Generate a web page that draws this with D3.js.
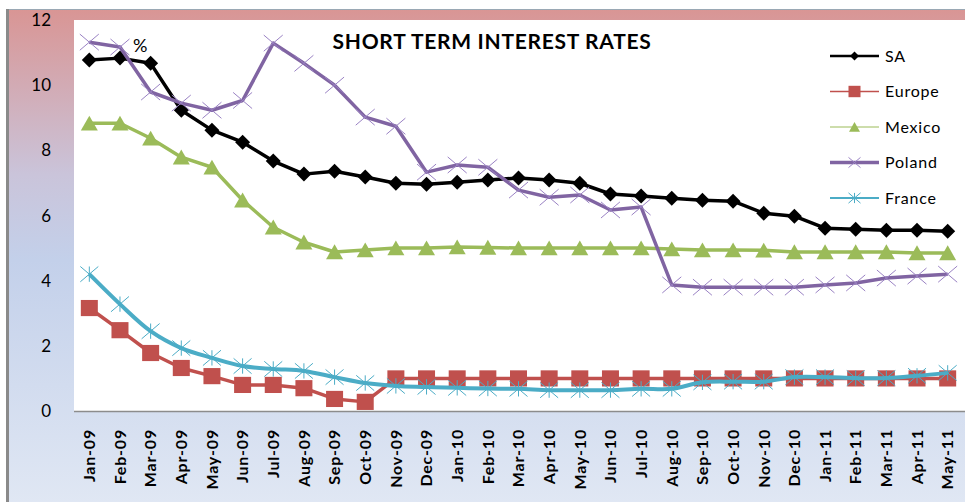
<!DOCTYPE html>
<html>
<head>
<meta charset="utf-8">
<script src="https://cdn.jsdelivr.net/npm/d3@7"></script>
<style>
  body { margin: 0; background: #fff; }
  text { font-family: Lato, "Open Sans", sans-serif; }
</style>
</head>
<body>
<div id="chart"></div>
<script>
// data
const months = ["Jan-09","Feb-09","Mar-09","Apr-09","May-09","Jun-09","Jul-09","Aug-09","Sep-09","Oct-09",
  "Nov-09","Dec-09","Jan-10","Feb-10","Mar-10","Apr-10","May-10","Jun-10","Jul-10","Aug-10",
  "Sep-10","Oct-10","Nov-10","Dec-10","Jan-11","Feb-11","Mar-11","Apr-11","May-11"];
const sa = [10.77,10.83,10.67,9.23,8.62,8.25,7.67,7.27,7.36,7.18,6.99,6.96,7.02,7.09,7.15,7.09,6.99,6.66,6.6,6.53,6.47,6.44,6.07,5.98,5.61,5.58,5.55,5.55,5.52];
const europe = [3.16,2.48,1.78,1.32,1.07,0.8,0.8,0.7,0.37,0.28,1,1,1,1,1,1,1,1,1,1,1,1,1,1,1,1,1,1,1];
const mexico = [8.83,8.83,8.37,7.79,7.48,6.47,5.64,5.18,4.88,4.94,5,5,5.03,5.02,5,5,5,5,5,4.97,4.94,4.94,4.93,4.88,4.88,4.88,4.88,4.85,4.85];
const poland = [11.32,11.17,9.79,9.45,9.23,9.53,11.29,10.67,10,9.02,8.74,7.33,7.55,7.48,6.78,6.56,6.63,6.17,6.26,3.87,3.8,3.8,3.8,3.8,3.87,3.93,4.08,4.14,4.2];
const france = [4.2,3.28,2.45,1.93,1.63,1.38,1.29,1.23,1.04,0.86,0.77,0.74,0.71,0.69,0.68,0.64,0.64,0.64,0.68,0.68,0.88,0.9,0.9,1.04,1.04,1.01,1.01,1.08,1.17];
const yTicks = [0,2,4,6,8,10,12];
const seriesNames = ["SA","Europe","Mexico","Poland","France"];

const width = 965, height = 502;
const svg = d3.select("#chart").append("svg")
  .attr("width", width).attr("height", height);

// background gradient
const grad = svg.append("defs").append("linearGradient")
  .attr("id", "bg").attr("x1", 0).attr("y1", 0).attr("x2", 0).attr("y2", 1);
grad.append("stop").attr("offset", "0%").attr("stop-color", "#d99594");
grad.append("stop").attr("offset", "33%").attr("stop-color", "#cac4da");
grad.append("stop").attr("offset", "50%").attr("stop-color", "#c3d0ea");
grad.append("stop").attr("offset", "100%").attr("stop-color", "#e1e8f4");

svg.append("rect").attr("x", 7).attr("y", 9).attr("width", width).attr("height", height)
  .attr("fill", "url(#bg)");
svg.append("line").attr("x1", 7).attr("x2", width).attr("y1", 9.5).attr("y2", 9.5)
  .attr("stroke", "#9aa8b4").attr("stroke-width", 1);
svg.append("line").attr("x1", 7.5).attr("x2", 7.5).attr("y1", 9).attr("y2", height)
  .attr("stroke", "#8a8a8a").attr("stroke-width", 3);

const x = d3.scaleBand().domain(months).range([74, 963]);
const y = d3.scaleLinear().domain([0, 12]).range([411, 20]);
const cx = d => x(d) + x.bandwidth() / 2;

// plot area
svg.append("rect").attr("x", 74).attr("y", 20).attr("width", width - 74).attr("height", 391)
  .attr("fill", "#fff");
svg.append("line").attr("x1", 74).attr("x2", width).attr("y1", 411.5).attr("y2", 411.5)
  .attr("stroke", "#8c8c8c").attr("stroke-width", 1.5);

// y axis labels
svg.append("g").selectAll("text").data(yTicks).join("text")
  .attr("x", 51).attr("y", d => y(d)).attr("dy", "0.36em")
  .attr("text-anchor", "end").attr("font-size", 17).text(d => d);

// x axis labels
svg.append("g").selectAll("text").data(months).join("text")
  .attr("transform", d => "translate(" + cx(d) + ",429) rotate(-90)")
  .attr("dy", "0.36em").attr("text-anchor", "end")
  .attr("font-size", 16).attr("font-weight", "bold").attr("letter-spacing", 0.8)
  .text(d => d);

// title and unit
svg.append("text").attr("x", 492).attr("y", 49).attr("text-anchor", "middle")
  .attr("font-size", 21).attr("font-weight", "bold").attr("letter-spacing", 0.7)
  .text("SHORT TERM INTEREST RATES");
svg.append("text").attr("x", 133).attr("y", 52).attr("font-size", 18).text("%");

// marker shapes
function marker(g, kind, color, s) {
  if (kind == "diamond") {
    g.append("path").attr("d", "M0," + (-s) + "L" + s + ",0L0," + s + "L" + (-s) + ",0Z").attr("fill", color);
  } else if (kind == "square") {
    g.append("rect").attr("x", -s).attr("y", -s * 0.95).attr("width", 2 * s).attr("height", 1.9 * s).attr("fill", color);
  } else if (kind == "triangle") {
    g.append("path").attr("d", "M0," + (-s * 0.9) + "L" + s + "," + (s * 0.85) + "L" + (-s) + "," + (s * 0.85) + "Z").attr("fill", color);
  } else if (kind == "x") {
    g.append("path").attr("d", "M" + (-s) + "," + (-s * 0.85) + "L" + s + "," + (s * 0.85) + "M" + s + "," + (-s * 0.85) + "L" + (-s) + "," + (s * 0.85))
      .attr("stroke", color).attr("stroke-width", 1).attr("fill", "none");
  } else if (kind == "star") {
    g.append("path").attr("d", "M" + (-s) + "," + (-s * 0.85) + "L" + s + "," + (s * 0.85) + "M" + s + "," + (-s * 0.85) + "L" + (-s) + "," + (s * 0.85) + "M0," + (-s * 0.85) + "L0," + (s * 0.85))
      .attr("stroke", color).attr("stroke-width", 1).attr("fill", "none");
  }
}

const series = [
  { name: "SA", values: sa, color: "#000000", kind: "diamond", size: 7.5, width: 3.5, curve: d3.curveLinear, legendWidth: 2.5, legendSize: 4.5, markerColor: "#000000" },
  { name: "Europe", values: europe, color: "#c0504d", kind: "square", size: 8.5, width: 3.5, curve: d3.curveLinear, legendWidth: 1.5, legendSize: 6, markerColor: "#c0504d" },
  { name: "Mexico", values: mexico, color: "#9bbb59", kind: "triangle", size: 8.5, width: 3.5, curve: d3.curveLinear, legendWidth: 1, legendSize: 5.5, markerColor: "#9bbb59" },
  { name: "Poland", values: poland, color: "#8064a2", kind: "x", size: 9.5, width: 3.5, curve: d3.curveLinear, legendWidth: 3.5, legendSize: 6, markerColor: "#9a82c4" },
  { name: "France", values: france, color: "#4bacc6", kind: "star", size: 9, width: 4, curve: d3.curveCatmullRom, legendWidth: 2, legendSize: 6, markerColor: "#4bacc6" }
];

const line = d3.line().x((d, i) => cx(months[i])).y(d => y(d));

series.forEach(s => {
  const g = svg.append("g");
  g.append("path").datum(s.values)
    .attr("d", line.curve(s.curve))
    .attr("fill", "none").attr("stroke", s.color).attr("stroke-width", s.width)
    .attr("stroke-linejoin", "round");
  g.selectAll("g.m").data(s.values).join("g").attr("class", "m")
    .attr("transform", (d, i) => "translate(" + cx(months[i]) + "," + y(d) + ")")
    .each(function() { marker(d3.select(this), s.kind, s.markerColor, s.size); });
});

// legend
const legend = svg.append("g");
series.forEach((s, i) => {
  const ly = 56 + i * 35.5;
  legend.append("line").attr("x1", 830).attr("x2", 879).attr("y1", ly).attr("y2", ly)
    .attr("stroke", s.color).attr("stroke-width", s.legendWidth);
  marker(legend.append("g").attr("transform", "translate(854.5," + ly + ")"), s.kind, s.markerColor, s.legendSize);
  legend.append("text").attr("x", 885).attr("y", ly).attr("dy", "0.36em")
    .attr("font-size", 16).attr("letter-spacing", 0.8).text(s.name);
});
</script>
</body>
</html>
